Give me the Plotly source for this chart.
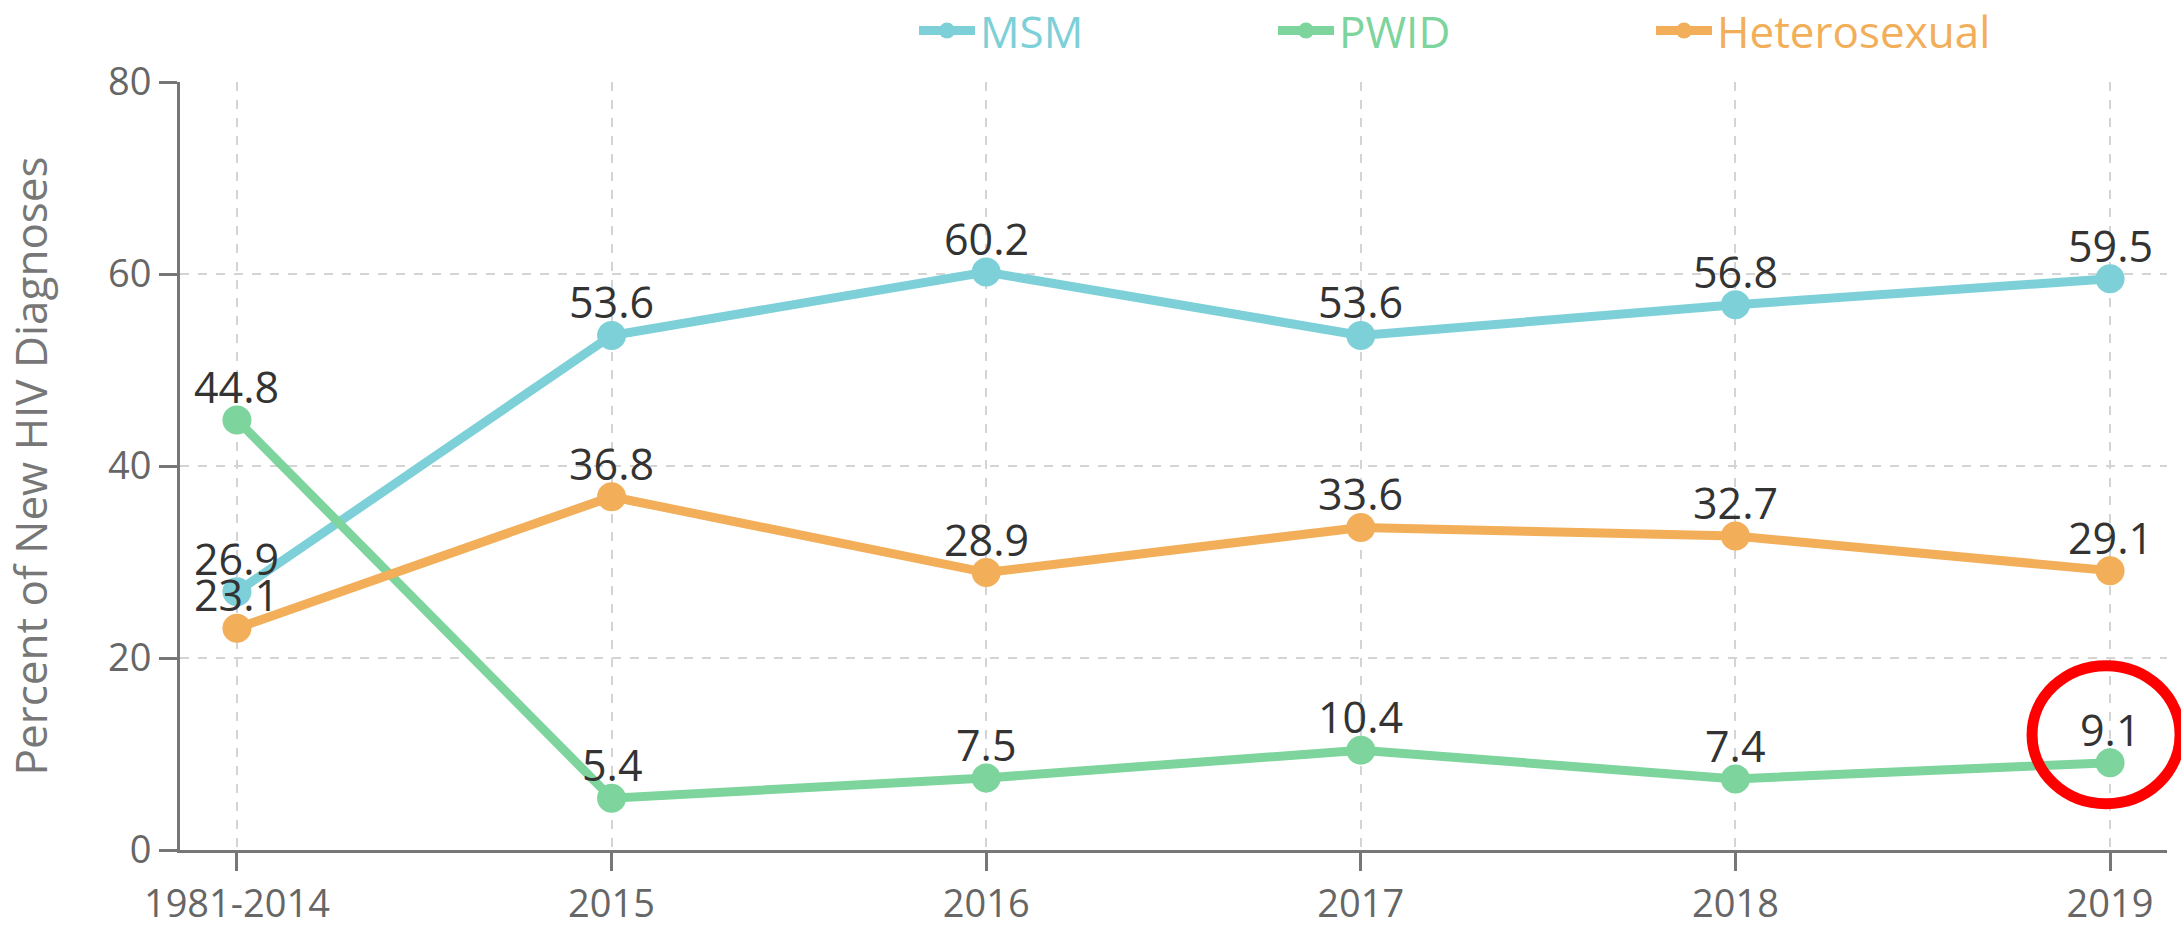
import plotly.graph_objects as go

categories = ["1981-2014", "2015", "2016", "2017", "2018", "2019"]
msm = [26.9, 53.6, 60.2, 53.6, 56.8, 59.5]
pwid = [44.8, 5.4, 7.5, 10.4, 7.4, 9.1]
hetero = [23.1, 36.8, 28.9, 33.6, 32.7, 29.1]
series_names = ["MSM", "PWID", "Heterosexual"]
series_colors = ["#7dd0d8", "#7dd49c", "#f2ae58"]
y_ticks = [0, 20, 40, 60, 80]

FONT = "Open Sans"
W, H = 2181, 927
ML, MR, MT, MB = 180, 14, 82, 77
XR = [-0.152, len(categories) - 1 + 0.152]
YR = [0, 80]

fig = go.Figure()
legends = ["legend", "legend2", "legend3"]
all_series = [msm, pwid, hetero]
for name, vals, col, lg in zip(series_names, all_series, series_colors, legends):
    fig.add_trace(go.Scatter(
        x=categories, y=vals, name=name, mode="lines+markers",
        line=dict(color=col, width=9),
        marker=dict(color=col, size=29),
        legend=lg, cliponaxis=False,
    ))

# value labels just above each point (category index positions)
for vals in all_series:
    for i, v in enumerate(vals):
        fig.add_annotation(x=i, y=v, text=f"{v:.1f}", showarrow=False,
                           xanchor="center", yanchor="bottom", yshift=2,
                           font=dict(family=FONT, size=43, color="#333333"))

# highlight circle around the last PWID value (paper coords derived from data)
pw = (W - ML - MR)
ph = (H - MT - MB)
def xp(i):
    return (i - XR[0]) / (XR[1] - XR[0])
def yp(v):
    return (v - YR[0]) / (YR[1] - YR[0])
cx = xp(len(categories) - 1) - 4 / pw
cy = yp(pwid[-1]) + 28 / ph
rx, ry = 74 / pw, 69 / ph
fig.add_shape(type="circle", xref="paper", yref="paper",
              x0=cx - rx, x1=cx + rx, y0=cy - ry, y1=cy + ry,
              line=dict(color="#ff0000", width=11), layer="above")

axis_col = "#777777"
grid_col = "#d4d4d4"
leg_px = [924, 1283, 1661]
layout_legends = {}
for lg, px, col in zip(legends, leg_px, series_colors):
    layout_legends[lg] = dict(
        orientation="h", yanchor="middle", xanchor="left",
        bgcolor="rgba(0,0,0,0)", itemwidth=56,
        font=dict(family=FONT, size=44, color=col),
        x=(px - ML) / pw - 10 / pw,
        y=1 + (MT - 31) / ph,
    )

fig.update_layout(
    width=W, height=H,
    margin=dict(l=ML, r=MR, t=MT, b=MB, autoexpand=False),
    paper_bgcolor="white", plot_bgcolor="white",
    font=dict(family=FONT, color="#666666"),
    showlegend=True,
    **layout_legends,
    xaxis=dict(
        type="category", range=XR,
        showline=True, linecolor=axis_col, linewidth=3,
        ticks="outside", ticklen=18, tickwidth=3, tickcolor=axis_col,
        tickfont=dict(family=FONT, size=38, color="#666666"),
        showgrid=True, gridcolor=grid_col, gridwidth=2, griddash="dash",
        zeroline=False,
    ),
    yaxis=dict(
        range=YR, tickvals=y_ticks,
        showline=True, linecolor=axis_col, linewidth=3,
        ticks="outside", ticklen=18, tickwidth=3, tickcolor=axis_col,
        tickfont=dict(family=FONT, size=38, color="#666666"),
        showgrid=True, gridcolor=grid_col, gridwidth=2, griddash="dash",
        zeroline=False,
        title=dict(text="Percent of New HIV Diagnoses",
                   font=dict(family=FONT, size=44, color="#777777"), standoff=48),
    ),
)

fig.write_html("out.html", config={"displayModeBar": False},
               post_script="document.body.style.margin='0';")
